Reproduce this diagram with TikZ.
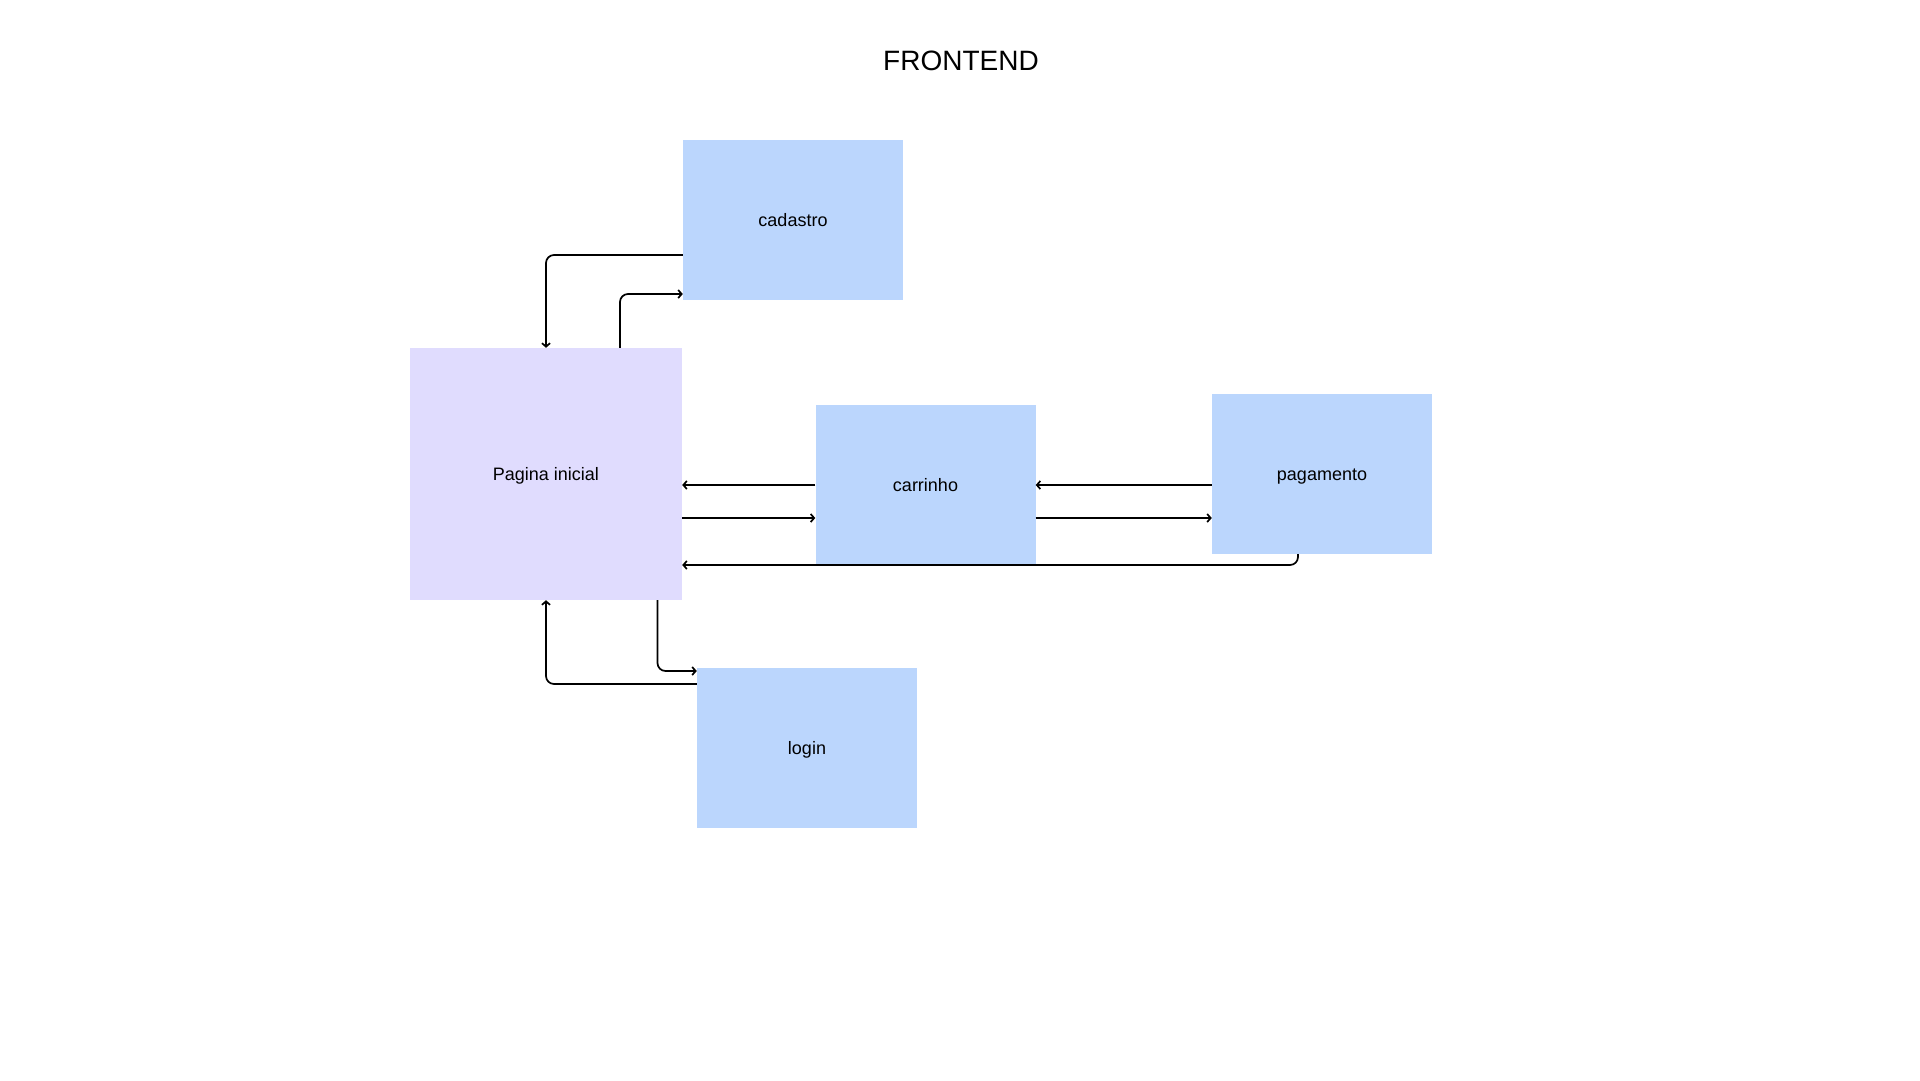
\documentclass[tikz,border=0pt]{standalone}
\usepackage{fontspec}
\setmainfont{Liberation Sans}
\usepackage{xcolor}
\usetikzlibrary{arrows.meta,positioning}

\definecolor{azulclaro}{RGB}{187,214,253}
\definecolor{lilas}{RGB}{224,220,254}

\tikzset{
  tela/.style={rectangle,fill=azulclaro,inner sep=0pt,minimum width=220pt,minimum height=160pt,
    text height=13pt,text depth=0pt,font=\fontsize{18}{22}\selectfont},
  inicio/.style={tela,fill=lilas,minimum width=272pt,minimum height=252pt},
  fluxo/.style={line width=1.7pt,rounded corners=8pt,-{Straight Barb[length=3.5pt,width=8pt]}}
}

\begin{document}
\begin{tikzpicture}[x=1pt,y=-1pt]
\useasboundingbox (0,0) rectangle (1920,1080);

\node[font=\fontsize{28}{32}\selectfont,inner sep=0pt] (titulo) at (961,61) {FRONTEND};

\node[inicio] (pagina) at (546,474) {Pagina inicial};
\node[tela] (cadastro) at (793,220) {cadastro};
\node[tela] (carrinho) at (925.5,485) {carrinho};
\node[tela] (pagamento) at (1322,474) {pagamento};
\node[tela] (login) at (807,748) {login};

% cadastro
\draw[fluxo] ([yshift=-35pt]cadastro.west) -| (pagina.north);
\draw[fluxo] ([xshift=74pt]pagina.north) |- ([yshift=-74pt]cadastro.west);

% carrinho / pagamento
\draw[fluxo] (carrinho.west) -- (carrinho.west -| pagina.east);
\draw[fluxo] ([yshift=-44pt]pagina.east) -- ([yshift=-33pt]carrinho.west);
\draw[fluxo] (carrinho.east -| pagamento.west) -- (carrinho.east);
\draw[fluxo] ([yshift=-33pt]carrinho.east) -- ([yshift=-44pt]pagamento.west);
\draw[fluxo] ([xshift=-24pt]pagamento.south) |- ([yshift=-91pt]pagina.east);

% login
\draw[fluxo] ([yshift=64pt]login.west) -| (pagina.south);
\draw[fluxo] ([xshift=111.5pt]pagina.south) |- ([yshift=77pt]login.west);
\end{tikzpicture}
\end{document}
